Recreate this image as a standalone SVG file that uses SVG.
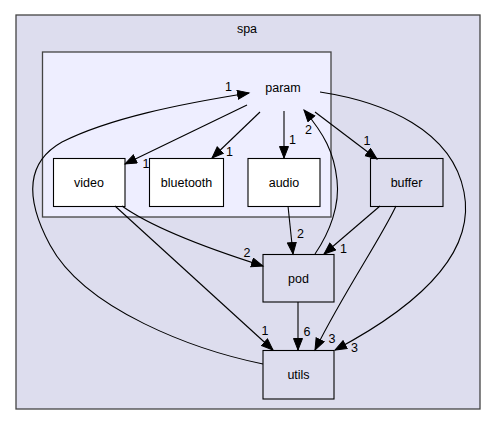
<svg xmlns="http://www.w3.org/2000/svg" width="496" height="425" viewBox="0 0 496 425">
<defs>
<marker id="ah" markerUnits="userSpaceOnUse" markerWidth="15" markerHeight="12" refX="12" refY="5" orient="auto">
<path d="M0.5,0.5 L12,5 L0.5,9.5 Z" fill="#000" stroke="#000" stroke-width="1"/>
</marker>
</defs>
<style>
text{font-family:"Liberation Sans",Arial,sans-serif;fill:#000}
.n{font-size:12.5px;text-anchor:middle}
.l{font-size:12.5px;text-anchor:middle}
.e{fill:none;stroke:#000;stroke-width:1.1;marker-end:url(#ah)}
.box{stroke:#000;stroke-width:1.1}
</style>
<rect width="496" height="425" fill="#fff"/>
<g id="spa">
<rect x="16" y="15" width="464" height="394" fill="#ddddee" stroke="#444" stroke-width="1.3"/>
<text class="n" x="247" y="32.5">spa</text>
</g>
<g id="param">
<rect x="42.5" y="52" width="288.5" height="165" fill="#eeeeff" stroke="#444" stroke-width="1.3"/>
<text class="n" x="283" y="91.5">param</text>
</g>
<g id="video">
<rect class="box" x="53.5" y="158.5" width="71.5" height="48" fill="#fff"/>
<text class="n" x="89" y="186.5">video</text>
</g>
<g id="bluetooth">
<rect class="box" x="149.5" y="158.5" width="74" height="48" fill="#fff"/>
<text class="n" x="186.5" y="186.5">bluetooth</text>
</g>
<g id="audio">
<rect class="box" x="248" y="158.5" width="72" height="48" fill="#fff"/>
<text class="n" x="284" y="186.5">audio</text>
</g>
<g id="buffer">
<rect class="box" x="370.5" y="158.5" width="72.5" height="48" fill="#ddddee"/>
<text class="n" x="406.5" y="186.5">buffer</text>
</g>
<g id="pod">
<rect class="box" x="263" y="254.5" width="71" height="47.5" fill="#ddddee"/>
<text class="n" x="298.5" y="282.5">pod</text>
</g>
<g id="utils">
<rect class="box" x="263" y="350.5" width="71" height="48.5" fill="#ddddee"/>
<text class="n" x="298.5" y="378.5">utils</text>
</g>
<g id="edges">
<path class="e" d="M247,105 L125,164"/>
<text class="l" x="146" y="168">1</text>
<path class="e" d="M260,112 L212,158"/>
<text class="l" x="229.5" y="156">1</text>
<path class="e" d="M284,111 L284,158"/>
<text class="l" x="292.5" y="144">1</text>
<path class="e" d="M315,112 L377,159"/>
<text class="l" x="367" y="145">1</text>
<path class="e" d="M315,254 C330,232 340,205 337,180 C334,152 324,134 304,110"/>
<text class="l" x="308.5" y="134">2</text>
<path class="e" d="M263,364 C195,350 85,310 50,245 C22,193 30,160 62,142 C110,118 180,104 249,93"/>
<text class="l" x="228.5" y="91">1</text>
<path class="e" d="M320,92 C385,102 452,130 464,192 C476,252 420,305 335,350"/>
<text class="l" x="354.5" y="352">3</text>
<path class="e" d="M396,206 C380,240 345,290 315,350"/>
<text class="l" x="332" y="343">3</text>
<path class="e" d="M380,206 L324,254"/>
<text class="l" x="343.5" y="253">1</text>
<path class="e" d="M288,206 L293,254"/>
<text class="l" x="300.5" y="238">2</text>
<path class="e" d="M122,206 C150,226 200,246 263,266"/>
<text class="l" x="247" y="257">2</text>
<path class="e" d="M115,206 L273,350"/>
<text class="l" x="265" y="335">1</text>
<path class="e" d="M298,302 L298,350"/>
<text class="l" x="307" y="336">6</text>
</g>
</svg>
